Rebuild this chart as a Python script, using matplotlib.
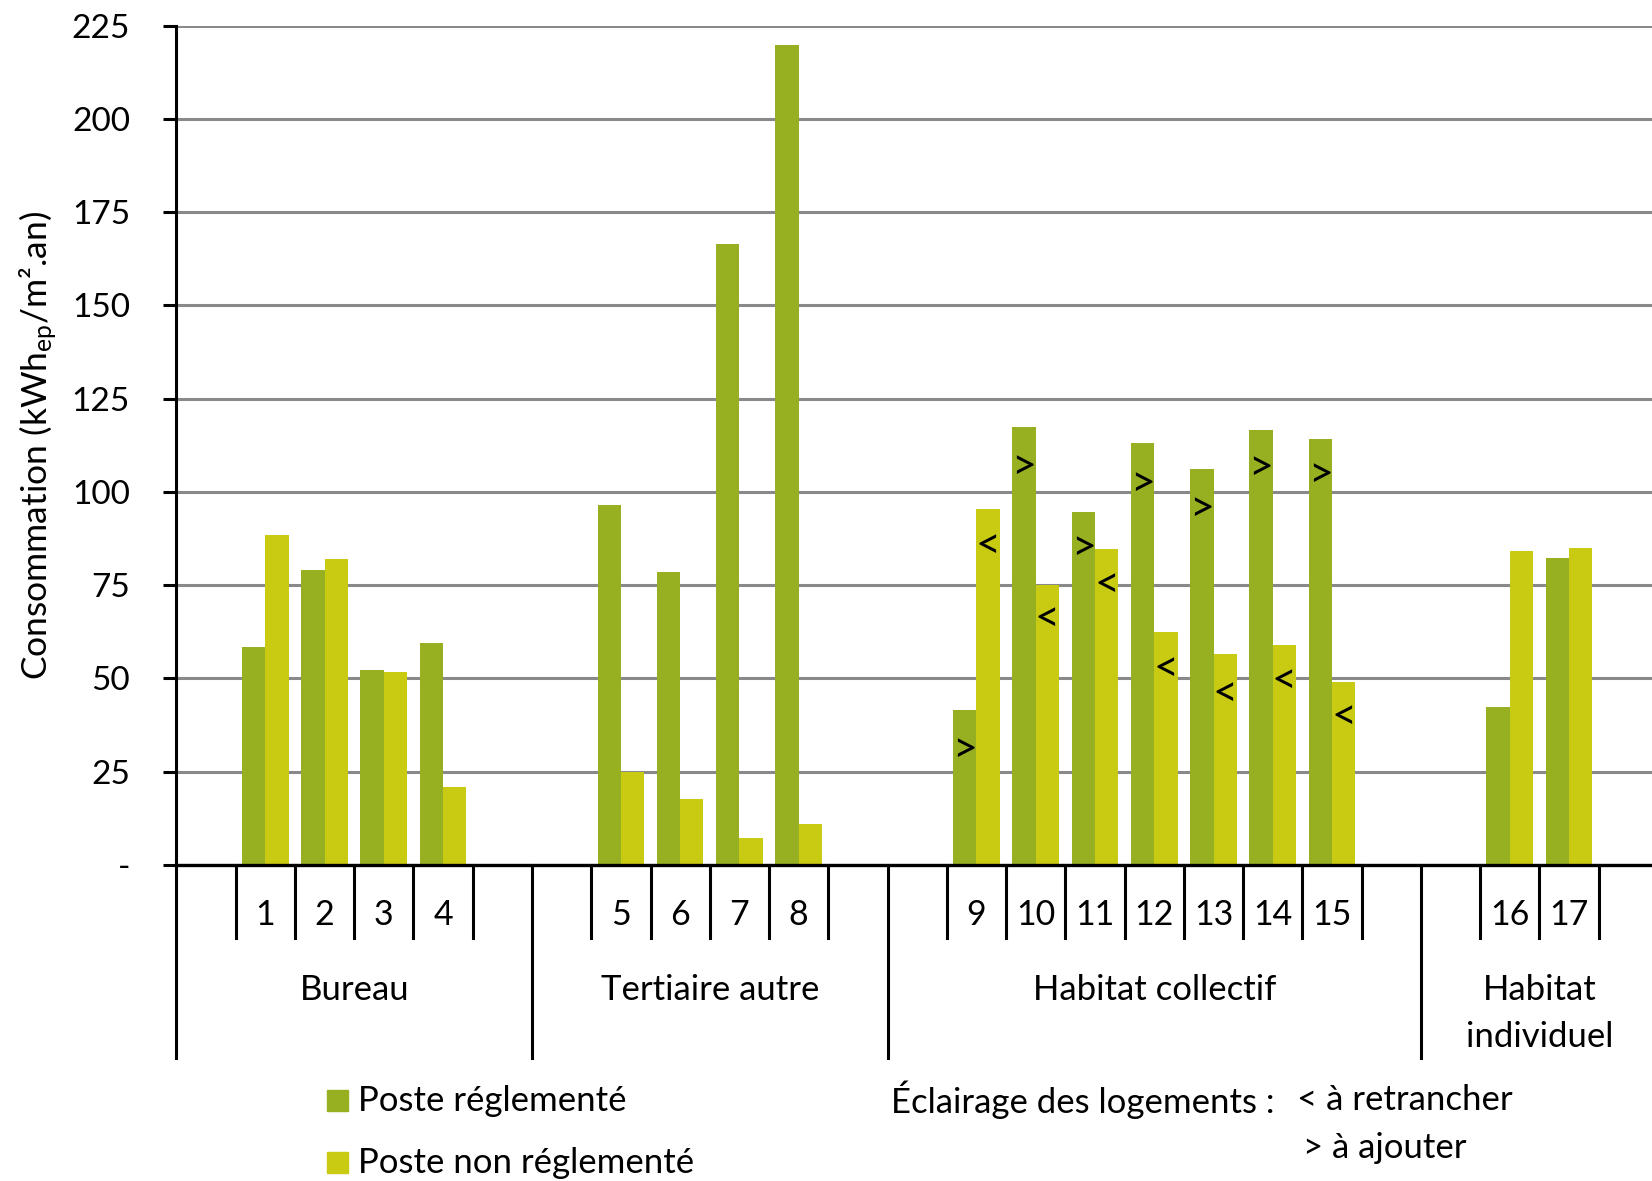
import matplotlib
matplotlib.use("Agg")
import matplotlib.pyplot as plt
from matplotlib.patches import Rectangle

# ================== DONNEES ==================
GROUPS = ["Bureau", "Tertiaire autre", "Habitat collectif", "Habitat\nindividuel"]
ITEMS = [
    ["1", "2", "3", "4"],
    ["5", "6", "7", "8"],
    ["9", "10", "11", "12", "13", "14", "15"],
    ["16", "17"],
]
REGLEMENTE = [58.4, 79.0, 52.2, 59.6, 96.6, 78.5, 166.6, 219.7,
              41.6, 117.5, 94.5, 113.1, 106.1, 116.5, 114.1, 42.3, 82.2]
NON_REGLEMENTE = [88.6, 81.9, 51.7, 20.9, 24.8, 17.8, 7.3, 11.0,
                  95.4, 75.1, 84.8, 62.5, 56.6, 59.0, 49.1, 84.1, 85.0]

# eclairage des logements (batiments 9 a 15)
ECL_ITEMS = ["9", "10", "11", "12", "13", "14", "15"]
ECL_AJOUTER = [30.8, 106.8, 84.9, 102.1, 95.4, 106.3, 104.5]      # ">" sur poste reglemente
ECL_RETRANCHER = [85.6, 65.9, 75.1, 52.6, 45.8, 49.2, 39.8]       # "<" sur poste non reglemente

Y_TICKS = [0, 25, 50, 75, 100, 125, 150, 175, 200, 225]
Y_LABELS = ["-", "25", "50", "75", "100", "125", "150", "175", "200", "225"]

# ================== STYLE ==================
GREEN = "#97b022"
YELLOW = "#c8cb12"
GRID = "#898989"
FS = 24.5
FS_TXT = 25
W, H = 1652, 1181

plt.rcParams["font.family"] = ["Lato", "DejaVu Sans"]
plt.rcParams["mathtext.fontset"] = "custom"
plt.rcParams["mathtext.rm"] = "Lato"
plt.rcParams["mathtext.it"] = "Lato"

# ================== POSITIONS ==================
# une case vide avant et apres chaque groupe
pos = {}
starts = []
s = 0
for items in ITEMS:
    starts.append(s)
    s += 1
    for it in items:
        pos[it] = s + 0.5
        s += 1
    s += 1
starts.append(s)
labels = [it for items in ITEMS for it in items]
x = [pos[it] for it in labels]

# ================== GRAPHIQUE ==================
fig = plt.figure(figsize=(W / 100, H / 100), dpi=100)
ax = fig.add_axes([176.4 / W, 1 - 865 / H, (1658 - 176.4) / W, (865 - 25.7) / H])

bw = 0.394
ax.bar([v - bw / 2 for v in x], REGLEMENTE, bw, color=GREEN, zorder=3)
ax.bar([v + bw / 2 for v in x], NON_REGLEMENTE, bw, color=YELLOW, zorder=3)

for it, a, r in zip(ECL_ITEMS, ECL_AJOUTER, ECL_RETRANCHER):
    ax.text(pos[it] - bw / 2, a, ">", ha="center", va="center", fontsize=31, zorder=4)
    ax.text(pos[it] + bw / 2, r, "<", ha="center", va="center", fontsize=31, zorder=4)

ax.set_xlim(0, starts[-1])
ax.set_ylim(0, 225)
ax.set_yticks(Y_TICKS)
ax.set_yticklabels(Y_LABELS)
ax.set_xticks([])
ax.yaxis.grid(True, color=GRID, lw=2.2)
ax.set_axisbelow(True)
for sp in ["top", "right"]:
    ax.spines[sp].set_visible(False)
ax.spines["left"].set_linewidth(2.2)
ax.spines["bottom"].set_linewidth(2.4)
ax.spines["bottom"].set_zorder(5)
ax.tick_params(axis="y", length=9.4, width=2.2, pad=24, labelsize=24)

ax.set_ylabel(r"Consommation (kWh$_{\mathrm{ep}}$/m².an)", fontsize=25.5, labelpad=9)

# axe des categories a deux niveaux
tr = ax.get_xaxis_transform()
for g, items in enumerate(ITEMS):
    b0 = starts[g] + 1
    for k in range(len(items) + 1):
        ax.plot([b0 + k, b0 + k], [0, -0.087], color="black", lw=2.2,
                transform=tr, clip_on=False)
    for it in items:
        ax.text(pos[it], -0.060, it, ha="center", va="center", fontsize=FS, transform=tr)
    ax.plot([starts[g], starts[g]], [0, -0.230], color="black", lw=2.2,
            transform=tr, clip_on=False)
    n = GROUPS[g].count("\n")
    ax.text((starts[g] + starts[g + 1]) / 2, -0.149 - 0.028 * n, GROUPS[g],
            ha="center", va="center", fontsize=FS_TXT, linespacing=1.55, transform=tr)

# ================== LEGENDE ==================
for yc, col, txt in [(1100, GREEN, "Poste réglementé"), (1162, YELLOW, "Poste non réglementé")]:
    fig.add_artist(Rectangle((327 / W, 1 - (yc + 10.5) / H), 21 / W, 21 / H,
                             color=col, transform=fig.transFigure))
    fig.text(358 / W, 1 - (yc + 1) / H, txt, va="center", fontsize=FS_TXT)

fig.text(891 / W, 1 - 1100 / H, "Éclairage des logements :", va="center", fontsize=FS_TXT)
fig.text(1297 / W, 1 - 1100 / H, "< à retrancher", va="center", fontsize=FS_TXT)
fig.text(1303 / W, 1 - 1148 / H, "> à ajouter", va="center", fontsize=FS_TXT)

fig.savefig("out.png", dpi=100)
